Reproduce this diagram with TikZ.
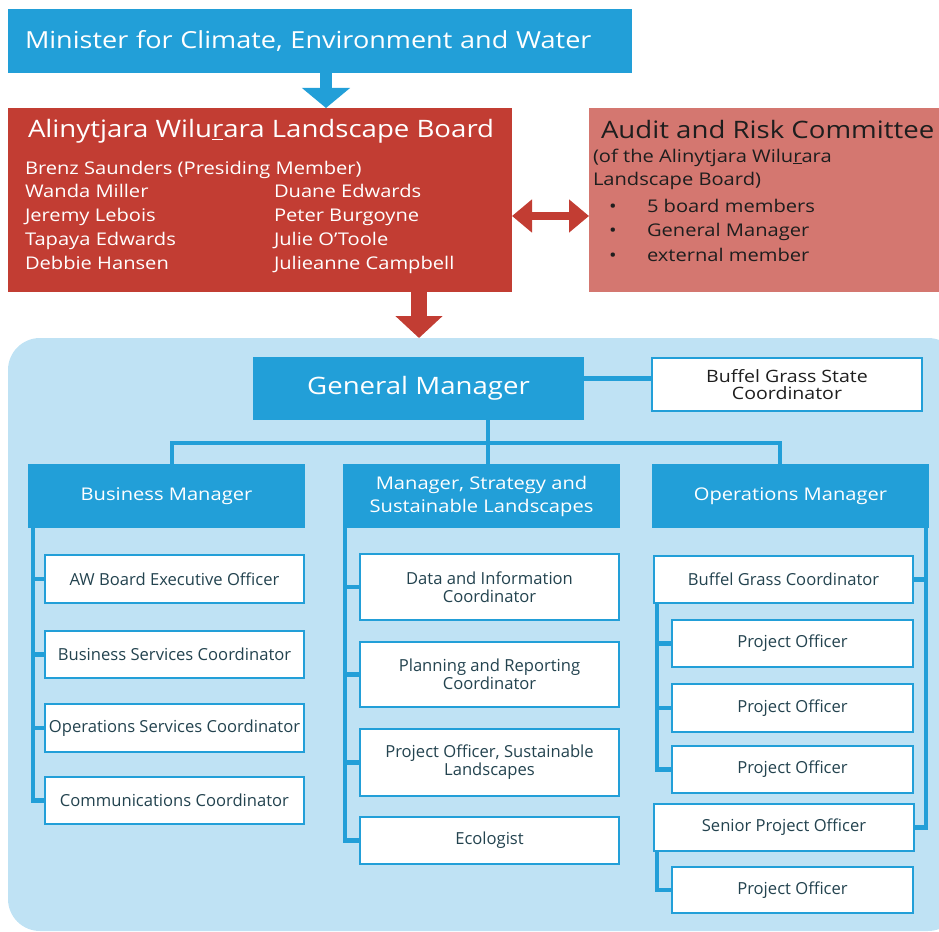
\documentclass[tikz,border=0pt]{standalone}
\usepackage{fontspec}
\setmainfont{Open Sans}
\newfontfamily\wf[FakeStretch=1.15]{Open Sans}
\usetikzlibrary{arrows.meta}
\definecolor{cblue}{HTML}{229FD8}
\definecolor{clight}{HTML}{BFE2F4}
\definecolor{cred}{HTML}{C23D33}
\definecolor{cpink}{HTML}{D47770}
\definecolor{cdark}{HTML}{23434F}
\definecolor{cblack}{HTML}{1E1E1E}
\newcommand{\fs}[1]{\fontsize{#1}{#1}\selectfont}
\newcommand{\fsb}[2]{\fontsize{#1}{#2}\selectfont}
\begin{document}
\begin{tikzpicture}[x=1pt,y=-1pt,
  sz/.style 2 args={minimum width=#1pt, minimum height=#2pt},
  bluebox/.style={fill=cblue, draw=none, text=white, inner sep=0pt, outer sep=0pt, anchor=north west, align=center},
  wbox/.style={fill=white, draw=cblue, line width=1.6pt, text=cdark, align=center, anchor=north west, inner sep=0pt, outer sep=0pt, font=\fsb{16.6}{18}},
  hdr/.style={bluebox, font=\wf\fsb{17.5}{23}},
  conn/.style={draw=cblue, line width=4.5pt},
  wtxt/.style={text=white, anchor=base west, inner sep=0pt, outer sep=0pt},
  ktxt/.style={text=cblack, anchor=base west, inner sep=0pt, outer sep=0pt},
]
\useasboundingbox (0,0) rectangle (939,931);
\clip (0,0) rectangle (939,931);

% light blue region
\fill[clight, rounded corners=32pt] (8,338) rectangle (960,931);

% Minister
\node[bluebox, sz={624}{64}, text width=590pt, align=left, font=\wf\fs{23.5}] (min) at (8,9) {Minister for Climate, Environment and Water};

% Board
\node[fill=cred, anchor=north west, inner sep=0pt, outer sep=0pt, sz={504}{184}] (board) at (8,108) {};
\node[wtxt, font=\wf\fs{24}] (bt) at (28,138) {Alinytjara Wilu\underline{r}ara Landscape Board};
\node[wtxt, font=\wf\fs{17.5}] (n0) at (25,174) {Brenz Saunders (Presiding Member)};
\node[wtxt, font=\wf\fs{17.5}] (n1) at (25,197) {Wanda Miller};
\node[wtxt, font=\wf\fs{17.5}] (n2) at (25,221) {Jeremy Lebois};
\node[wtxt, font=\wf\fs{17.5}] (n3) at (25,245) {Tapaya Edwards};
\node[wtxt, font=\wf\fs{17.5}] (n4) at (25,269) {Debbie Hansen};
\node[wtxt, font=\wf\fs{17.5}] (m1) at (274,197) {Duane Edwards};
\node[wtxt, font=\wf\fs{17.5}] (m2) at (274,221) {Peter Burgoyne};
\node[wtxt, font=\wf\fs{17.5}] (m3) at (274,245) {Julie O’Toole};
\node[wtxt, font=\wf\fs{17.5}] (m4) at (274,269) {Julieanne Campbell};

% Audit
\node[fill=cpink, anchor=north west, inner sep=0pt, outer sep=0pt, sz={360}{184}] (audit) at (589,108) {};
\node[ktxt, font=\wf\fs{24}] (at) at (601,139) {Audit and Risk Committee};
\node[ktxt, font=\wf\fs{17.5}] (a1) at (593,162) {(of the Alinytjara Wilu\underline{r}ara};
\node[ktxt, font=\wf\fs{17.5}] (a2) at (593,185) {Landscape Board)};
\node[ktxt, font=\wf\fs{17.5}] (u1) at (609,212) {•};
\node[ktxt, font=\wf\fs{17.5}] (u2) at (609,236) {•};
\node[ktxt, font=\wf\fs{17.5}] (u3) at (609,261) {•};
\node[ktxt, font=\wf\fs{17.5}] (v1) at (647,212) {5 board members};
\node[ktxt, font=\wf\fs{17.5}] (v2) at (647,236) {General Manager};
\node[ktxt, font=\wf\fs{17.5}] (v3) at (647,261) {external member};

% arrows
\coordinate (ma) at (326,0);
\draw[cblue, line width=12pt, -{Triangle[width=47pt,length=20pt]}] (min.south -| ma) -- (board.north -| ma);
\coordinate (ba) at (419,338);
\draw[cred, line width=16pt, -{Triangle[width=46pt,length=22pt]}] (board.south -| ba) -- (ba);
\coordinate (da) at (0,216);
\draw[cred, line width=8pt, {Triangle[width=32pt,length=20pt]}-{Triangle[width=32pt,length=20pt]}] (board.east |- da) -- (audit.west |- da);

% General manager
\node[bluebox, sz={331}{63}, font=\wf\fs{24}] (gm) at (253,357) {General Manager};
\node[wbox, sz={270}{53}, font=\wf\fsb{17}{17}, text=cblack] (bgsc) at (652,358) {Buffel Grass State\\Coordinator};
\draw[conn] ([yshift=10pt]gm.east) -- ([yshift=10pt]gm.east -| bgsc.west);

% headers
\node[hdr, sz={277}{64}] (bm) at (28,464) {Business Manager};
\node[hdr, sz={277}{64}] (msl) at (343,464) {Manager, Strategy and\\Sustainable Landscapes};
\node[hdr, sz={277}{64}] (om) at (652,464) {Operations Manager};

\coordinate (j) at (488,443);
\coordinate (hl) at (172,443);
\coordinate (hr) at (780,443);
\draw[conn] (bm.north -| hl) -- (hl) -- (hr) -- (om.north -| hr);
\draw[conn] (gm.south -| j) -- (msl.north -| j);

% left column
\node[wbox, sz={259}{48}] (b1) at (45,555) {AW Board Executive Officer};
\node[wbox, sz={259}{47}] (b2) at (45,631) {Business Services Coordinator};
\node[wbox, sz={259}{48}] (b3) at (45,704) {Operations Services Coordinator};
\node[wbox, sz={259}{47}] (b4) at (45,777) {Communications Coordinator};
\coordinate (ls) at (33,528);
\draw[conn] (ls) |- (b4.west);
\foreach \b in {b1,b2,b3} \draw[conn] (ls |- \b.west) -- (\b.west);

% middle column
\node[wbox, sz={259}{66}] (c1) at (360,554) {Data and Information\\Coordinator};
\node[wbox, sz={259}{65}] (c2) at (360,642) {Planning and Reporting\\Coordinator};
\node[wbox, sz={259}{67}] (c3) at (360,729) {Project Officer, Sustainable\\Landscapes};
\node[wbox, sz={259}{47}] (c4) at (360,817) {Ecologist};
\coordinate (ms) at (345,528);
\draw[conn] (ms) |- (c4.west);
\foreach \b in {c1,c2,c3} \draw[conn] (ms |- \b.west) -- (\b.west);

% right column
\node[wbox, sz={259}{47}] (bg) at (654,556) {Buffel Grass Coordinator};
\node[wbox, sz={241}{47}] (p1) at (672,620) {Project Officer};
\node[wbox, sz={241}{48}] (p2) at (672,684) {Project Officer};
\node[wbox, sz={241}{47}] (p3) at (672,746) {Project Officer};
\node[wbox, sz={260}{47}] (sp) at (654,804) {Senior Project Officer};
\node[wbox, sz={241}{46}] (p4) at (672,867) {Project Officer};
\coordinate (rs) at (926,528);
\draw[conn] (rs) |- (sp.east);
\draw[conn] (rs |- bg.east) -- (bg.east);
\coordinate (bgs) at (657,603);
\draw[conn] (bgs) |- (p3.west);
\foreach \b in {p1,p2} \draw[conn] (bgs |- \b.west) -- (\b.west);
\coordinate (sps) at (657,851);
\draw[conn] (sps) |- (p4.west);
\end{tikzpicture}
\end{document}
